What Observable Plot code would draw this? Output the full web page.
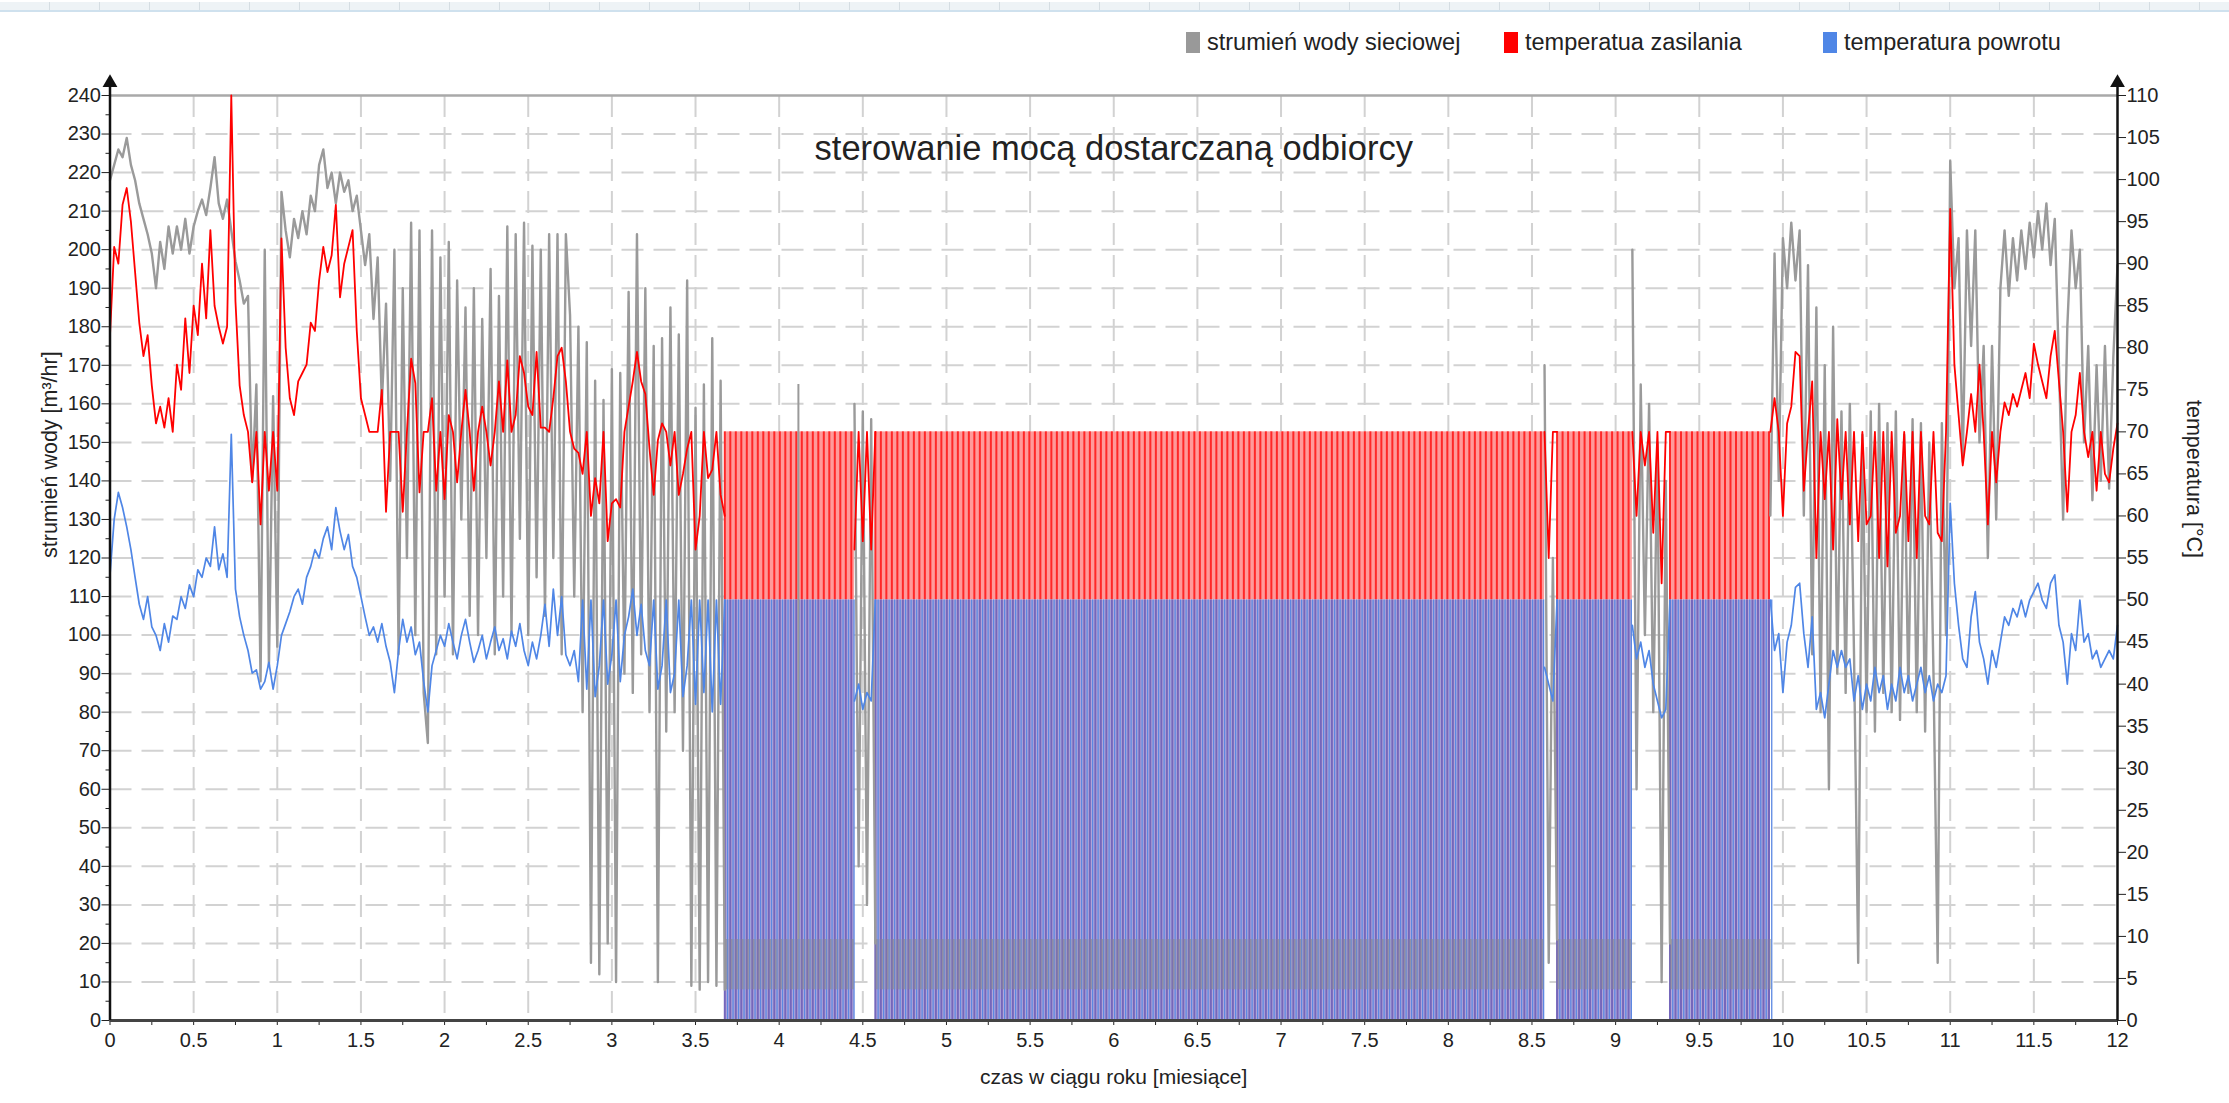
<!DOCTYPE html>
<html><head><meta charset="utf-8">
<script src="https://cdn.jsdelivr.net/npm/d3@7"></script>
<script src="https://cdn.jsdelivr.net/npm/@observablehq/plot@0.6"></script>
<style>
body{margin:0;background:#fff;font-family:"Liberation Sans",Arial,sans-serif;}
#wrap{position:relative;width:2229px;height:1103px;overflow:hidden;}
#strip{position:absolute;left:0;top:2px;width:2229px;height:8px;background:#eef3f6;border-bottom:2px solid #cfe1ee;
 background-image:repeating-linear-gradient(90deg,transparent 0 49px,#d5dde2 49px 50px);}
.lg{position:absolute;top:29px;font-size:23.5px;color:#222;display:flex;align-items:center;white-space:nowrap;}
.sw{display:inline-block;width:14px;height:21px;margin-right:7px;}
#chart{position:absolute;left:0;top:0;}
</style></head>
<body><div id="wrap"><div id="strip"></div><div id="chart"></div>
<div class="lg" style="left:1186px"><span class="sw" style="background:#999999"></span>strumień wody sieciowej</div>
<div class="lg" style="left:1504px"><span class="sw" style="background:#ff0000"></span>temperatua zasilania</div>
<div class="lg" style="left:1823px"><span class="sw" style="background:#4f86e6"></span>temperatura powrotu</div>
</div>
<script>
// ---- data (flow in m3/h, temperatures in °C), sampled every 0.025 month ----
const STEP = 0.025;
// segment A: 0 .. 3.675 months
const flowA = [
218,222,226,224,229,222,218,212,208,204,
199,190,202,195,206,199,206,200,208,199,
206,210,213,209,216,224,212,208,213,205,
197,192,186,188,140,165,88,200,92,162,
97,215,205,198,208,203,210,204,214,210,
222,226,216,220,212,220,215,218,210,214,
205,196,204,182,198,160,186,140,200,95,
190,120,207,100,205,85,72,205,95,198,
110,202,95,192,130,185,105,190,100,182,
120,195,95,188,110,206,100,204,125,207,
100,201,115,200,105,204,120,204,95,204,
183,110,180,80,176,15,166,12,161,20,
169,10,168,90,189,85,204,95,190,80,
175,10,177,75,185,80,178,70,192,9,
159,8,165,10,177,9,166,8];
const supplyA = [
81.5,92,90,97,99,95,89,83,79,81.5,
75.5,71,73,70.5,74,70,78,75,83.5,77,
85,81.5,90,83.5,94,85,82.5,80.5,82.5,110,
85.5,75.5,72,70,64,70,59,70,63,70,
63,93,80,74,72,76,77,78,83,82,
88,92,89,91,97,86,90,92,94,82,
74,72,70,70,70,75,60.5,70,70,70,
60.5,70,78.7,75.8,62.8,70,70,74,63,70,
62,72,70,64,70,75,70,63,70,73,
70,66,70,76,70,78.5,70,72,79,77,
73,72,79.5,70.5,70.5,70,74,79,80,76,
70,68,67.5,65,70,60,64.5,61.5,70,57,
61.5,62,61,70,73,76,79.5,76,74.5,68,
62.5,69,71,70,66,70,62.5,65,68,70,
56,60,70,64.5,65.5,70,62.5,60];
const returnA = [
53,59.6,62.8,61,58.7,56,52.7,49.5,47.7,50.4,
46.8,45.8,44,47.2,45,48.1,47.7,50.4,49,51.8,
50.4,53.6,52.7,55,54,58.7,53.6,55.5,52.7,69.7,
51.3,48,45.8,44,41.3,41.7,39.4,40.3,42.6,39.4,
42.2,45.8,47.2,48.6,50.4,51.3,49.5,52.7,54,56,
55,57.3,58.7,56,61,58.2,56,57.8,54,52.7,
50.4,48,45.8,46.8,45,47.2,44.5,42.6,39,44,
47.7,45,46.8,43.5,45,40.3,36.7,42.2,44,45.8,
44.5,47.2,45,43,45.8,47.7,45,42.6,44,45.8,
43,45,46.8,44,45.4,43,46.3,44.5,47.2,44,
42.2,45,43,45.8,49.5,44.5,51.3,45.8,50.4,43.5,
42.2,44,40.3,50,39.4,50,38.5,42.2,50,40,
43.5,50,40.3,45.8,48,51.3,45.8,49.5,44,42.2,
50,39.4,42.2,50,39,41.3,50,38.5,42.2,50,
37.6,50,39,50,36.7,50,37.6,50];
// short breaks inside the summer cycling
const flowG1 = [160,40,158,30,156,20], supplyG1 = [56,70,57,70,56,70], returnG1 = [38,40,37,39,38,50]; // from 4.45
const flowG2 = [170,15,120,21], supplyG2 = [70,55,70,70], returnG2 = [42,40,38,50]; // from 8.575
const flowG3 = [200,60,165,100,160,80,150,10,140,20], supplyG3 = [70,60,70,66,70,58,70,52,70,70], returnG3 = [47,43,45,42,44,40,38,36,37,50]; // from 9.1
// segment C: 9.925 .. 12 months
const flowC = [
131,199,140,203,190,207,192,205,131,196,
95,185,80,170,60,180,90,158,85,160,
95,15,152,80,158,75,160,85,155,80,
158,78,152,85,156,80,155,75,150,90,
15,155,100,223,190,203,145,205,175,205,
150,175,120,175,130,190,205,188,203,192,
205,195,207,198,210,200,212,196,208,170,
130,180,205,190,200,150,175,135,170,140,
175,138,172,196];
const supplyC = [
70,74,70,60,71,73,79.5,79,63,70,
76,55,70,62,70,56,71.5,62,70,59,
70,57,70,59,60,70,55,70,54,70,
58,60,70,57,70,55,70,60,59,70,
58,57,70,96.5,78,72,66,70,74.5,70,
78,70,59,70,64,70,73.5,72,74.5,73,
75,77,74,80.5,78,76,74,79,82,76,
70,60.5,70,72,77,70,67,70,63,70,
65,64,68,71];
const returnC = [
50,44,46,39,45,47,51.5,52,46,42,
48,37,39,36,40,44,42,44,42,43,
38,41,37,40,38,42,39,41,37,40,
38,42,39,41,38,40,42,39,41,38,
40,39,41,61.5,52,47,43,42,48,51,
45,43,40,44,42,45,48,47,49,48,
50,48,50,51,52,50,49,52,53,47,
45,40,46,44,50,45,46,43,44,42,
43,44,43,47];
// summer: daily on/off cycling
const summerSpans = [[3.675,4.45],[4.575,8.575],[8.65,9.1],[9.325,9.925]];
const supplyCycle = [70, 50];
const returnCycle = [50, 0];
const flowCycle = [21, 8];
const flowSpikes = [[4.115, 165]];
// axis ticks
const flowTicks = d3.range(0, 241, 10);
const tempTicks = d3.range(0, 111, 5);
const monthTicks = d3.range(0, 12.001, 0.5);

const K = 240/110;
const DAY = 12/365;
function seg(name, x0, f, s, r){ return f.map((v,i)=>({seg:name, x:x0+i*STEP, flow:v, supply:s[i], ret:r[i]})); }
const rows = [
  ...seg("A",0,flowA,supplyA,returnA),
  ...seg("G1",4.45,flowG1,supplyG1,returnG1),
  ...seg("G2",8.575,flowG2,supplyG2,returnG2),
  ...seg("G3",9.1,flowG3,supplyG3,returnG3),
  ...seg("C",9.925,flowC,supplyC,returnC)];
const days = summerSpans.flatMap(([a,b]) => d3.range(a, b, DAY));

const grid = {stroke:"#d2d2d2", strokeWidth:2, strokeDasharray:"22,10"};
const chart = Plot.plot({
  width: 2229, height: 1103,
  marginLeft: 109.5, marginRight: 112, marginTop: 95, marginBottom: 83,
  x: {domain:[0,12]}, y: {domain:[0,240]},
  style: {fontFamily:"'Liberation Sans', Arial, sans-serif", fontSize:"20px", color:"#222", background:"transparent", overflow:"visible"},
  marks: [
    Plot.ruleY(flowTicks.filter(d=>d>0 && d<240), grid),
    Plot.ruleX(monthTicks.filter(d=>d>0 && d<12), grid),
    Plot.ruleY([240], {stroke:"#a9a9a9", strokeWidth:2.5}),
    // summer cycling
    Plot.rect(summerSpans, {x1:d=>d[0], x2:d=>d[1], y1:supplyCycle[1]*K, y2:supplyCycle[0]*K, fill:"#ff9a9a"}),
    Plot.ruleX(days, {y1:supplyCycle[1]*K, y2:supplyCycle[0]*K, stroke:"#ff2828", strokeWidth:2}),
    Plot.rect(summerSpans, {x1:d=>d[0], x2:d=>d[1], y1:returnCycle[1]*K, y2:returnCycle[0]*K, fill:"#b2a8da"}),
    Plot.ruleX(days, {y1:returnCycle[1]*K, y2:returnCycle[0]*K, stroke:"#7566bb", strokeWidth:2}),
    Plot.ruleX(days, {x:d=>d+DAY/2, y1:returnCycle[1]*K, y2:returnCycle[0]*K, stroke:"#5b88e2", strokeWidth:1.3}),
    Plot.rect(summerSpans, {x1:d=>d[0], x2:d=>d[1], y1:flowCycle[1], y2:flowCycle[0], fill:"#8c8c98", fillOpacity:0.3}),
    Plot.ruleX(days, {x:d=>d+DAY/4, y1:flowCycle[1], y2:flowCycle[0], stroke:"#8a8a8a", strokeOpacity:0.5, strokeWidth:1.5}),
    Plot.ruleX(flowSpikes, {x:d=>d[0], y1:flowCycle[0], y2:d=>d[1], stroke:"#9a9a9a", strokeWidth:2}),
    // series
    Plot.line(rows, {x:"x", y:"flow", z:"seg", stroke:"#9a9a9a", strokeWidth:2.4}),
    Plot.line(rows, {x:"x", y:d=>d.supply*K, z:"seg", stroke:"#ff0000", strokeWidth:1.8}),
    Plot.line(rows, {x:"x", y:d=>d.ret*K, z:"seg", stroke:"#4f86e6", strokeWidth:1.7}),
    // axes
    Plot.axisY(flowTicks, {anchor:"left", tickSize:8, tickPadding:1, fontSize:20, label:null, fill:"#222"}),
    Plot.axisY(d3.range(5, 240, 10), {anchor:"left", tickSize:4, tickFormat:()=>"", label:null}),
    Plot.axisY(tempTicks.map(d=>d*K), {anchor:"right", tickSize:8, tickPadding:1, fontSize:20, label:null, tickFormat:d=>String(Math.round(d/K)), fill:"#222"}),
    Plot.axisX(monthTicks, {anchor:"bottom", tickSize:5, tickPadding:7, fontSize:20, label:null, tickFormat:d=>String(+d.toFixed(1)), fill:"#222"}),
    Plot.axisX(d3.range(0.25, 12, 0.5), {anchor:"bottom", tickSize:5, tickFormat:()=>"", label:null}),
    Plot.ruleY([0], {stroke:"#444", strokeWidth:3}),
    Plot.ruleX([0, 12], {y1:0, y2:243, stroke:"#111", strokeWidth:2.5}),
    Plot.dot([0, 12], {x:d=>d, y:243.3, symbol:"triangle", r:5.5, fill:"#111", stroke:"none"}),
    // titles
    Plot.text(["sterowanie mocą dostarczaną odbiorcy"], {frameAnchor:"top", dy:40, fontSize:34.5, fill:"#222"}),
    Plot.text(["strumień wody [m³/hr]"], {frameAnchor:"left", dx:-60, rotate:-90, fontSize:21.5, fill:"#222"}),
    Plot.text(["temperatura [°C]"], {frameAnchor:"right", dx:76, rotate:90, fontSize:21.5, fill:"#222"}),
    Plot.text(["czas w ciągu roku [miesiące]"], {frameAnchor:"bottom", dy:63, fontSize:21, fill:"#222"})
  ]
});
document.getElementById("chart").appendChild(chart);
</script></body></html>
